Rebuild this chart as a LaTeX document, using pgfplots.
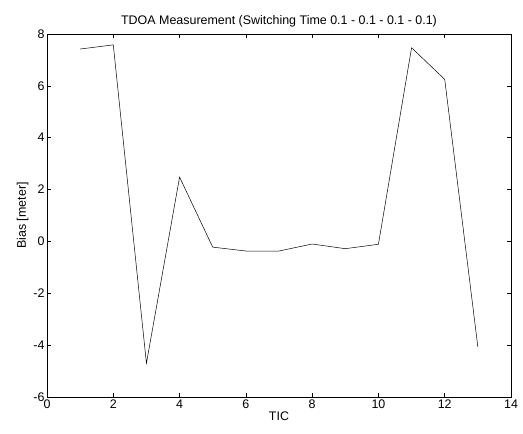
\documentclass[border=0pt]{standalone}
\usepackage{pgfplots}
\pgfplotsset{compat=1.18}
\usepackage{fontspec}
\setmainfont{Liberation Sans}
\begin{document}
\begin{tikzpicture}
\begin{axis}[
  scale only axis,
  width=464bp, height=363bp,
  xmin=0, xmax=14, ymin=-6, ymax=8,
  xtick={0,2,...,14}, ytick={-6,-4,...,8},
  tick align=inside,
  major tick length=4bp,
  tick style={black, line width=0.5pt},
  axis line style={line width=0.6pt},
  /pgf/number format/assume math mode=true,
  ticklabel style={font=\fontsize{12.5}{14}\selectfont},
  xticklabel style={yshift=1bp},
  yticklabel style={xshift=1bp},
  title={TDOA Measurement (Switching Time 0.1 - 0.1 - 0.1 - 0.1)},
  title style={font=\fontsize{12.5}{14}\selectfont, yshift=-3bp},
  xlabel={TIC},
  ylabel={Bias [meter]},
  label style={font=\fontsize{12.5}{14}\selectfont},
  xlabel style={yshift=3bp},
  ylabel style={yshift=-2bp},
]
\addplot[black, line width=0.5pt, mark=none] coordinates {
  (1,7.42) (2,7.58) (3,-4.7) (4,2.48) (5,-0.22) (6,-0.37) (7,-0.37)
  (8,-0.1) (9,-0.28) (10,-0.11) (11,7.47) (12,6.25) (13,-4.07)
};
\end{axis}
\path ([xshift=-47bp,yshift=-37bp]current axis.south west) rectangle ([xshift=12bp,yshift=34bp]current axis.north east);
\end{tikzpicture}
\end{document}
